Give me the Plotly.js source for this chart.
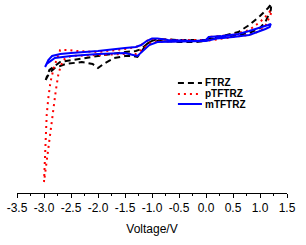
<!DOCTYPE html>
<html><head><meta charset="utf-8">
<script src="https://cdn.plot.ly/plotly-3.0.1.min.js"></script>
<style>html,body{margin:0;padding:0;background:#fff}#c{width:306px;height:245px}</style>
</head><body><div id="c"></div>
<script>
// Cyclic voltammograms (current in arbitrary units)
const seriesNames = ["FTRZ", "pTFTRZ", "mTFTRZ"];
const seriesColors = ["#000000", "#ff0000", "#0000ff"];
const seriesDash = ["6px,4px", "2px,4px", "solid"];

const ftrzV = [-2.97,-2.9,-2.8,-2.6,-2.3,-2.1,-2.0,-1.9,-1.7,-1.5,-1.35,-1.27,-1.2,-1.1,-1.0,-0.8,-0.5,-0.2,0.0,0.05,0.3,0.6,0.8,1.0,1.15,1.21,1.2,1.1,1.0,0.8,0.5,0.0,-0.5,-0.9,-1.05,-1.2,-1.3,-1.5,-2.0,-2.4,-2.7,-2.9,-2.97];
const ftrzI = [0.40,0.47,0.52,0.56,0.58,0.56,0.52,0.56,0.62,0.64,0.64,0.63,0.68,0.76,0.79,0.79,0.78,0.78,0.79,0.82,0.84,0.88,0.95,1.04,1.12,1.16,1.10,0.98,0.92,0.87,0.84,0.80,0.80,0.81,0.78,0.71,0.69,0.68,0.64,0.61,0.58,0.50,0.40];

const ptftrzV = [-3.0,-2.99,-2.97,-2.95,-2.92,-2.88,-2.82,-2.75,-2.7,-2.55,-2.4,-2.0,-1.5,-1.3,-1.2,-1.1,-1.0,-0.5,0.0,0.05,0.5,0.8,1.0,1.15,1.2,1.2,1.1,1.0,0.8,0.5,0.0,-0.5,-1.0,-1.2,-1.3,-1.5,-2.0,-2.5,-2.65,-2.73,-2.78,-2.83,-2.88,-2.93,-2.97,-3.0];
const ptftrzI = [-0.62,-0.45,-0.20,0.05,0.22,0.38,0.52,0.62,0.70,0.70,0.69,0.68,0.71,0.73,0.75,0.79,0.81,0.80,0.80,0.83,0.85,0.90,0.98,1.06,1.10,1.06,0.94,0.89,0.85,0.83,0.79,0.79,0.78,0.70,0.66,0.66,0.65,0.64,0.60,0.47,0.30,0.10,-0.10,-0.30,-0.47,-0.62];

const mtftrzV = [-2.98,-2.92,-2.85,-2.7,-2.5,-2.0,-1.5,-1.3,-1.2,-1.1,-1.0,-0.9,-0.7,-0.5,-0.2,0.0,0.05,0.3,0.6,0.8,1.0,1.15,1.2,1.18,1.1,1.0,0.8,0.5,0.2,0.0,-0.5,-0.9,-1.05,-1.2,-1.27,-1.35,-1.5,-2.0,-2.5,-2.8,-2.95,-2.98];
const mtftrzI = [0.53,0.60,0.64,0.66,0.67,0.69,0.72,0.73,0.75,0.79,0.815,0.815,0.80,0.795,0.79,0.80,0.83,0.84,0.86,0.89,0.92,0.95,0.96,0.93,0.91,0.89,0.85,0.83,0.815,0.79,0.785,0.78,0.75,0.68,0.64,0.65,0.67,0.66,0.64,0.62,0.56,0.53];

const tickVals = [-3.5,-3.0,-2.5,-2.0,-1.5,-1.0,-0.5,0.0,0.5,1.0,1.5];
const tickText = ["-3.5","-3.0","-2.5","-2.0","-1.5","-1.0","-0.5","0.0","0.5","1.0","1.5"];

const xs = [ftrzV, ptftrzV, mtftrzV];
const ys = [ftrzI, ptftrzI, mtftrzI];

const traces = seriesNames.map((n, i) => ({
  x: xs[i], y: ys[i], name: n, mode: "lines",
  line: {color: seriesColors[i], width: 2, dash: seriesDash[i]}
}));

// compact legend (paper coordinates)
const legX0 = 0.596, legX1 = 0.685, legTextX = 0.689;
const legRows = [0.570, 0.513, 0.461];
const shapes = seriesNames.map((n, i) => ({
  type: "line", xref: "paper", yref: "paper",
  x0: legX0, x1: legX1, y0: legRows[i], y1: legRows[i],
  line: {color: seriesColors[i], width: 2, dash: seriesDash[i]}
}));
const annotations = seriesNames.map((n, i) => ({
  xref: "paper", yref: "paper", x: legTextX, y: legRows[i],
  xanchor: "left", yanchor: "middle", showarrow: false,
  text: n, font: {size: 10, weight: "bold", color: "#000"}
}));

const layout = {
  width: 306, height: 245,
  margin: {l: 17, r: 19, t: 0, b: 52},
  paper_bgcolor: "#fff", plot_bgcolor: "#fff",
  font: {family: "Arial, Liberation Sans, sans-serif", color: "#000", size: 12},
  showlegend: false,
  shapes: shapes,
  annotations: annotations,
  xaxis: {
    range: [-3.5, 1.5], tickvals: tickVals, ticktext: tickText,
    ticks: "outside", ticklen: 4, tickwidth: 1, tickcolor: "#000",
    minor: {dtick: 0.25, ticks: "outside", ticklen: 2, tickcolor: "#000"},
    showline: true, linecolor: "#000", linewidth: 1, showgrid: false, zeroline: false,
    tickfont: {size: 12},
    title: {text: "Voltage/V", font: {size: 12}, standoff: 10}
  },
  yaxis: {visible: false, range: [-0.73, 1.2], showgrid: false, zeroline: false}
};

Plotly.newPlot("c", traces, layout, {displayModeBar: false, staticPlot: true});
</script>
</body></html>
